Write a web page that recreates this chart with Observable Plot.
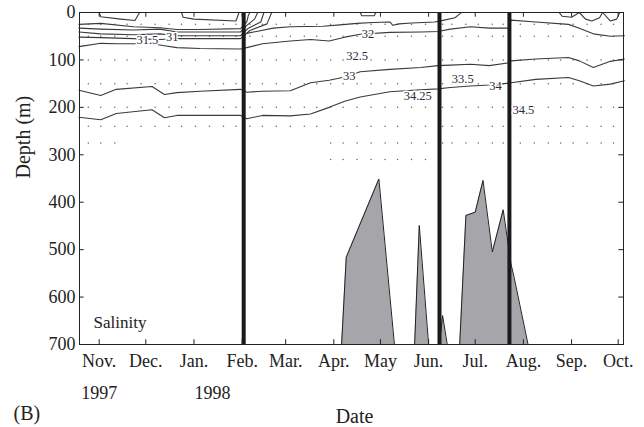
<!DOCTYPE html>
<html><head><meta charset="utf-8">
<script src="https://cdn.jsdelivr.net/npm/d3@7"></script>
<script src="https://cdn.jsdelivr.net/npm/@observablehq/plot@0.6"></script>
<style>
html,body{margin:0;padding:0;background:#fff;}
#chart svg, #chart svg text { font-family: "Liberation Serif", "DejaVu Serif", serif !important; }
</style>
</head><body><div id="chart"></div>
<script>
// ---------- axis values ----------
const monthTickDates = ["1997-11-01","1997-12-01","1998-01-01","1998-02-01","1998-03-01","1998-04-01","1998-05-01","1998-06-01","1998-07-01","1998-08-01","1998-09-01","1998-10-01"];
const monthLabels = ["Nov.","Dec.","Jan.","Feb.","Mar.","Apr.","May","Jun.","Jul.","Aug.","Sep.","Oct."];
const depthTicks = [0,100,200,300,400,500,600,700];
const yearLabels = ["1997","1998"];
const yearLabelDates = ["1997-11-01","1998-01-13"];

// ---------- salinity isolines: [date, depth (m)] ----------
const iso31a = [["1997-10-19",25],["1997-11-02",23],["1997-11-23",30],["1997-12-10",32],["1997-12-21",36],["1998-01-05",36],["1998-01-31",34],["1998-02-04",20],["1998-02-05",6],["1998-02-06",0]];
const iso31b = [["1997-10-19",33],["1997-11-02",35],["1997-11-23",37],["1997-12-10",35],["1997-12-21",41],["1998-01-05",41],["1998-01-31",41],["1998-02-04",27],["1998-02-09",14],["1998-02-11",0]];
const iso31c = [["1997-10-19",41],["1997-11-02",45],["1997-11-23",47],["1997-12-10",45],["1997-12-21",49],["1998-01-05",49],["1998-01-31",49],["1998-02-05",33],["1998-02-13",20],["1998-02-15",0]];
const iso315 = [["1997-10-19",52],["1997-11-02",53],["1997-11-23",55],["1997-12-10",57],["1997-12-21",55],["1998-01-05",55],["1998-01-31",55],["1998-02-06",38],["1998-02-17",24],["1998-02-20",0]];
const iso318 = [["1998-02-04",44],["1998-02-21",33],["1998-03-04",30],["1998-03-25",29],["1998-04-05",26],["1998-04-16",23],["1998-04-26",21],["1998-05-07",20],["1998-05-09",27],["1998-05-13",24],["1998-05-21",22],["1998-06-05",20],["1998-06-11",16],["1998-06-18",11],["1998-06-21",3],["1998-06-22",0]];
const iso32 = [["1997-10-19",72],["1997-11-02",65],["1997-11-12",66],["1997-12-05",66],["1997-12-13",70],["1997-12-21",74],["1998-01-05",76],["1998-01-31",77],["1998-02-04",74],["1998-02-14",66],["1998-03-04",60],["1998-03-17",57],["1998-03-29",60],["1998-04-08",52],["1998-04-18",46],["1998-05-07",42],["1998-05-27",41],["1998-06-07",40],["1998-06-15",35],["1998-06-28",30],["1998-07-10",33],["1998-07-23",33],["1998-07-24",16],["1998-08-09",20],["1998-08-30",25],["1998-09-06",33],["1998-09-15",45],["1998-09-26",50],["1998-10-05",49]];
const iso33 = [["1997-10-19",164],["1997-11-02",175],["1997-11-12",162],["1997-12-05",156],["1997-12-13",173],["1997-12-21",169],["1998-01-05",166],["1998-01-31",162],["1998-02-04",168],["1998-02-14",166],["1998-03-04",165],["1998-03-17",148],["1998-03-29",143],["1998-04-08",136],["1998-04-18",125],["1998-05-07",120],["1998-05-27",116],["1998-06-07",112],["1998-06-15",111],["1998-06-28",109],["1998-07-10",112],["1998-07-23",106],["1998-07-24",102],["1998-08-09",98],["1998-08-30",95],["1998-09-06",102],["1998-09-15",116],["1998-09-26",103],["1998-10-05",98]];
const iso3425 = [["1997-10-19",221],["1997-11-02",226],["1997-11-12",213],["1997-12-05",205],["1997-12-13",222],["1997-12-21",217],["1998-01-05",217],["1998-01-31",217],["1998-02-04",224],["1998-02-14",217],["1998-03-04",218],["1998-03-17",214],["1998-03-29",200],["1998-04-08",187],["1998-04-18",178],["1998-05-07",167],["1998-05-27",163],["1998-06-07",161],["1998-06-15",158],["1998-06-28",155],["1998-07-10",153],["1998-07-23",149],["1998-07-24",148],["1998-08-09",141],["1998-08-30",137],["1998-09-06",144],["1998-09-15",155],["1998-09-26",151],["1998-10-05",144]];
const surf1 = [["1997-11-01",0],["1997-11-02",9],["1997-11-15",14],["1997-11-24",17],["1997-11-27",0]];
const surf2 = [["1997-12-24",0],["1997-12-25",10],["1998-01-01",14],["1998-01-28",18],["1998-01-30",0]];
const surf3 = [["1998-04-18",0],["1998-04-19",7],["1998-04-27",7],["1998-04-28",0]];
const surf4 = [["1998-08-24",0],["1998-08-26",8],["1998-09-01",10],["1998-09-06",0]];
const surf5 = [["1998-09-06",0],["1998-09-10",14],["1998-09-14",18],["1998-09-19",11],["1998-09-21",0]];
const surf6 = [["1998-09-21",0],["1998-09-26",18],["1998-09-30",14],["1998-10-02",0]];

// contour labels
const contourLabelText = ["31.5","31","32","32.5","33","34.25","33.5","34","34.5"];
const contourLabelDates = ["1997-12-02","1997-12-18","1998-04-23","1998-04-16","1998-04-11","1998-05-25","1998-06-23","1998-07-14","1998-08-01"];
const contourLabelDepth = [57,52,46,91,133,176,141,156,205];

// ---------- deep water patches (grey) ----------
const deepPatch1 = [["1998-04-06",700],["1998-04-09",516],["1998-04-30",351],["1998-05-10",700]];
const deepPatch2 = [["1998-05-23",700],["1998-05-26",449],["1998-06-01",700]];
const deepPatch3 = [["1998-06-08",700],["1998-06-10",639],["1998-06-13",700]];
const deepPatch4 = [["1998-06-21",700],["1998-06-25",428],["1998-07-01",421],["1998-07-06",354],["1998-07-12",505],["1998-07-19",416],["1998-07-24",530],["1998-07-26",558],["1998-08-04",700]];

// ---------- events (thick bars) ----------
const eventDates = ["1998-02-02","1998-06-08","1998-07-23"];

// ---------- sampling stations ----------
const stationDates = ["1997-10-25","1997-11-02","1997-11-11","1997-11-19","1997-11-28","1997-12-07","1997-12-16","1997-12-24","1998-01-02","1998-01-11","1998-01-20","1998-01-28","1998-02-06","1998-02-14","1998-02-23","1998-03-04","1998-03-13","1998-03-21","1998-03-30","1998-04-07","1998-04-16","1998-04-25","1998-05-04","1998-05-12","1998-05-21","1998-05-30","1998-06-10","1998-06-16","1998-06-25","1998-07-03","1998-07-12","1998-07-19","1998-07-30","1998-08-08","1998-08-17","1998-08-25","1998-09-02","1998-09-11","1998-09-20","1998-09-28"];
const stationMaxDepth = [275,275,275,240,240,240,240,240,240,240,240,240,250,250,250,250,250,250,310,310,310,310,310,310,310,310,275,275,275,275,275,275,300,300,300,300,300,300,300,300];
const sampleDepths = [25,50,100,150,200,240,275,310];

// ---------- build tables ----------
const D = s => new Date(s);
const toRows = (arr, id) => arr.map(([d, v]) => ({date: D(d), depth: v, id}));
const contourRows = [
  ...toRows(iso31a,"a"), ...toRows(iso31b,"b"), ...toRows(iso31c,"c"), ...toRows(iso315,"d"),
  ...toRows(iso318,"e"), ...toRows(iso32,"f"), ...toRows(iso33,"g"), ...toRows(iso3425,"h"),
  ...toRows(surf1,"s1"), ...toRows(surf2,"s2"), ...toRows(surf3,"s3"), ...toRows(surf4,"s4"),
  ...toRows(surf5,"s5"), ...toRows(surf6,"s6")
];
const patchRows = [...toRows(deepPatch1,"p1"), ...toRows(deepPatch2,"p2"), ...toRows(deepPatch3,"p3"), ...toRows(deepPatch4,"p4")];
const dotRows = [];
stationDates.forEach((d, i) => sampleDepths.forEach(z => { if (z <= stationMaxDepth[i]) dotRows.push({date: D(d), depth: z}); }));
const labelRows = contourLabelText.map((t, i) => ({text: t, date: D(contourLabelDates[i]), depth: contourLabelDepth[i]}));
const monthDates = monthTickDates.map(D);
const monthLabelMap = new Map(monthDates.map((d, i) => [+d, monthLabels[i]]));
const xDomain = [new Date("1997-10-19T08:00Z"), new Date("1998-10-04T10:00Z")];
const tickSpan = 3 * 24 * 3600 * 1000;

const serif = "Liberation Serif";
const ink = "#222";

const chart = Plot.plot({
  width: 644, height: 427,
  marginLeft: 79, marginRight: 21, marginTop: 12, marginBottom: 83,
  style: {fontSize: "18px", color: ink, background: "#fff"},
  x: {type: "utc", domain: xDomain},
  y: {domain: [0, 700], reverse: true},
  marks: [
    Plot.dot(dotRows, {x: "date", y: "depth", r: 0.75, fill: "#666", stroke: null}),
    Plot.line(contourRows, {x: "date", y: "depth", z: "id", stroke: "#3a3a3a", strokeWidth: 1.1}),
    Plot.areaY(patchRows, {x: "date", y1: 700, y2: "depth", z: "id", fill: "#a6a6aa"}),
    Plot.line(patchRows, {x: "date", y: "depth", z: "id", stroke: "#222", strokeWidth: 1}),
    Plot.ruleX(eventDates.map(D), {stroke: "#1a1a1a", strokeWidth: 4}),
    Plot.text(labelRows, {x: "date", y: "depth", text: "text", fontSize: 12.5, fontFamily: serif, fill: "#2a2a40", stroke: "#fff", strokeWidth: 3, paintOrder: "stroke"}),
    Plot.text(["Salinity"], {frameAnchor: "bottom-left", lineAnchor: "middle", dx: 14, dy: -22, textAnchor: "start", fontSize: 17, fontFamily: serif, fill: ink}),
    Plot.frame({stroke: ink, strokeWidth: 1}),
    Plot.ruleX(monthDates, {y1: 0, y2: 10, stroke: ink}),
    Plot.ruleX(monthDates, {y1: 690, y2: 700, stroke: ink}),
    Plot.ruleY(depthTicks, {x1: xDomain[0], x2: new Date(+xDomain[0] + tickSpan), stroke: ink}),
    Plot.ruleY(depthTicks, {x1: new Date(+xDomain[1] - tickSpan), x2: xDomain[1], stroke: ink}),
    Plot.axisX({ticks: monthDates, tickFormat: d => monthLabelMap.get(+d), tickSize: 0, tickPadding: 10, fontSize: 18, fontFamily: serif, label: null, fill: ink}),
    Plot.axisY({ticks: depthTicks, tickSize: 0, tickPadding: 4, fontSize: 18, fontFamily: serif, label: null, fill: ink}),
    Plot.text(yearLabels, {x: (d, i) => D(yearLabelDates[i]), frameAnchor: "bottom", lineAnchor: "middle", dy: 49, fontSize: 18, fontFamily: serif, fill: ink}),
    Plot.text(["Date"], {frameAnchor: "bottom", lineAnchor: "middle", dx: 3, dy: 72, fontSize: 20, fontFamily: serif, fill: ink}),
    Plot.text(["(B)"], {frameAnchor: "bottom-left", lineAnchor: "middle", dx: -66, dy: 69, textAnchor: "start", fontSize: 20, fontFamily: serif, fill: ink}),
    Plot.text(["Depth (m)"], {frameAnchor: "left", lineAnchor: "middle", dx: -56, rotate: -90, fontSize: 20, fontFamily: serif, fill: ink})
  ]
});
document.getElementById("chart").append(chart);
</script>
</body></html>
